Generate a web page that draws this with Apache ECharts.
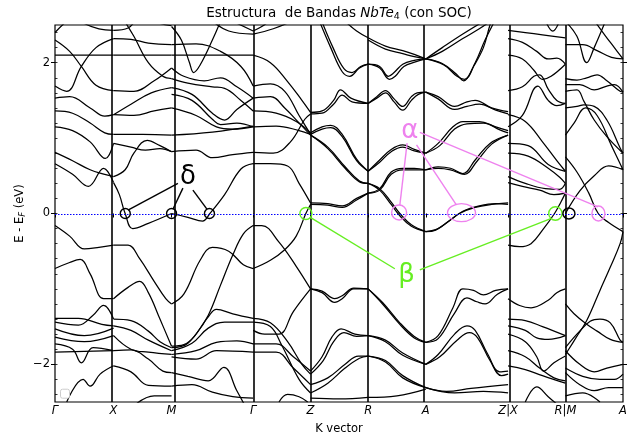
<!DOCTYPE html>
<html>
<head>
<meta charset="utf-8">
<script src="https://cdn.jsdelivr.net/npm/echarts@6/dist/echarts.min.js"></script>
<style>
  html, body { margin: 0; padding: 0; background: #fff; }
  #chart { width: 633px; height: 437px; }
</style>
</head>
<body>
<div id="chart"></div>
<script>
// High-symmetry path (cumulative k, normalised) and its labels
const kLabels = ['Γ', 'X', 'M', 'Γ', 'Z', 'R', 'A', 'Z|X', 'R|M', 'A'];
const kTicks = [0, 0.1031, 0.2052, 0.3489, 0.4499, 0.5513, 0.6528, 0.7977, 0.8986, 1.0];

// Energy ticks (eV)
const majorTicks = [-2, 0, 2];
const minorTicks = [-2.4, -2.2, -2.0, -1.8, -1.6, -1.4, -1.2, -1.0, -0.8, -0.6, -0.4, -0.2, 0,
  0.2, 0.4, 0.6, 0.8, 1.0, 1.2, 1.4, 1.6, 1.8, 2.0, 2.2, 2.4];

// Bands per path segment: each band is a list of [t, E - E_F], t = fraction along the segment
const bandsGX = [
  [[0,2.40],[0.17,2.53],[0.33,2.62],[0.5,2.52],[0.75,2.45],[1,2.43]],
  [[0,2.30],[0.25,2.15],[0.45,1.95],[0.7,1.70],[1,1.63]],
  [[0,1.69],[0.2,1.62],[0.45,1.95],[0.7,2.2],[1,2.32]],
  [[0,2.10],[1,2.10]],
  [[0,1.53],[0.25,1.55],[0.6,1.40],[0.85,1.29],[1,1.31]],
  [[0,1.36],[0.3,1.33],[0.6,1.2],[0.85,1.07],[1,1.05]],
  [[0,1.15],[0.3,1.10],[0.6,0.95],[0.86,0.73],[1,0.93]],
  [[0,0.81],[0.3,0.70],[0.6,0.58],[0.85,0.52],[1,0.49]],
  [[0,0.66],[0.3,0.52],[0.57,0.36],[0.83,0.60],[1,0.41]],
  [[0,-0.16],[0.25,-0.3],[0.5,-0.47],[0.75,-0.45],[1,-0.42]],
  [[0,-0.73],[0.25,-0.65],[0.43,-0.61],[0.6,-0.8],[0.83,-1.13],[1,-1.13]],
  [[0,-1.39],[0.4,-1.39],[0.8,-1.47],[1,-1.49]],
  [[0,-1.44],[0.4,-1.48],[0.65,-1.35],[0.83,-1.22],[1,-1.40]],
  [[0,-1.53],[0.5,-1.62],[1,-1.52]],
  [[0,-1.64],[0.5,-1.70],[1,-1.62]],
  [[0,-1.73],[0.3,-1.8],[0.45,-1.98],[0.65,-1.78],[1,-1.82]],
  [[0,-1.84],[0.5,-1.83],[1,-1.82]],
  [[0.2,-2.5],[0.48,-2.2],[0.6,-2.29],[0.77,-2.13],[1,-2.02]]
];
const bandsXM = [
  [[0,2.43],[0.25,2.46],[0.4,2.6]],
  [[0.55,2.6],[0.8,2.52],[1,2.49]],
  [[0,2.32],[0.3,2.31],[0.6,2.26],[1,2.24]],
  [[0,2.10],[1,2.10]],
  [[0,1.63],[0.35,1.62],[0.7,1.76],[1,1.93]],
  [[0.15,2.6],[0.35,2.35],[0.6,2.0],[0.85,1.82],[1,1.79]],
  [[0,1.31],[0.3,1.45],[0.65,1.6],[1,1.67]],
  [[0,1.31],[0.35,1.3],[0.7,1.36],[1,1.40]],
  [[0,1.05],[0.5,1.05],[1,1.04]],
  [[0,0.93],[0.3,0.88],[0.55,0.84],[0.8,0.86],[1,0.82]],
  [[0,0.49],[0.2,0.58],[0.35,0.8],[0.58,0.97],[0.8,0.9],[1,0.82]],
  [[0,0.41],[0.1,0.25],[0.2,0.0],[0.33,-0.2],[0.6,-0.13],[1,0.0]],
  [[0,-0.42],[0.25,-0.42],[0.45,-0.6],[0.7,-0.9],[0.9,-1.13],[1,-1.2]],
  [[0,-1.13],[0.25,-0.98],[0.45,-0.90],[0.6,-1.05],[0.8,-1.4],[1,-1.76]],
  [[0,-1.40],[0.3,-1.42],[0.6,-1.56],[0.8,-1.7],[1,-1.78]],
  [[0,-1.49],[0.3,-1.55],[0.6,-1.68],[1,-1.82]],
  [[0,-1.62],[0.3,-1.8],[0.6,-1.84],[1,-1.87]],
  [[0,-1.82],[0.3,-1.81],[0.6,-1.93],[0.85,-2.09],[1,-2.11]],
  [[0,-2.02],[0.3,-2.1],[0.6,-2.28],[1,-2.29]],
  [[0.4,-2.52],[0.7,-2.42],[1,-2.42]]
];
const bandsMG = [
  [[0,2.48],[0.12,2.3],[0.22,2.0],[0.27,1.87],[0.35,1.97],[0.5,2.3],[0.62,2.6]],
  [[0.45,2.6],[0.7,2.42],[1,2.38]],
  [[0.75,2.55],[1,2.42]],
  [[0,2.24],[0.3,2.25],[0.6,2.15],[0.85,1.95],[1,1.69]],
  [[0,2.10],[1,2.10]],
  [[0,1.93],[0.15,1.82],[0.4,1.76],[0.6,1.8],[0.8,1.68],[1,1.53]],
  [[0,1.79],[0.2,1.73],[0.5,1.68],[0.65,1.66],[0.85,1.5],[1,1.36]],
  [[0,1.67],[0.25,1.58],[0.5,1.33],[0.65,1.24],[0.8,1.38],[1,1.53]],
  [[0,1.58],[0.25,1.5],[0.5,1.25],[0.6,1.18],[0.8,1.2],[1,1.15]],
  [[0,1.40],[0.3,1.30],[0.55,1.15],[0.75,1.12],[1,1.15]],
  [[0,1.04],[0.5,1.08],[1,1.16]],
  [[0,0.82],[0.3,0.84],[0.5,0.74],[0.75,0.78],[1,0.81]],
  [[0,0.0],[0.2,-0.05],[0.38,-0.1],[0.47,0.0],[0.65,0.25],[0.85,0.59],[1,0.66]],
  [[0,-1.2],[0.15,-1.07],[0.35,-0.62],[0.5,-0.45],[0.7,-0.5],[0.88,-0.68],[1,-0.73]],
  [[0,-1.76],[0.15,-1.74],[0.3,-1.6],[0.45,-1.35],[0.6,-0.95],[0.75,-0.55],[0.88,-0.27],[1,-0.16]],
  [[0,-1.78],[0.2,-1.72],[0.45,-1.37],[0.55,-1.27],[0.75,-1.33],[1,-1.39]],
  [[0,-1.82],[0.25,-1.72],[0.45,-1.52],[0.65,-1.44],[1,-1.44]],
  [[0,-1.87],[0.3,-1.82],[0.55,-1.71],[0.8,-1.69],[1,-1.73]],
  [[0,-1.9],[0.3,-1.93],[0.55,-1.82],[1,-1.84]],
  [[0,-2.11],[0.2,-2.16],[0.45,-2.22],[0.64,-2.04],[0.8,-2.35],[0.9,-2.55]],
  [[0,-2.29],[0.25,-2.27],[0.5,-2.37],[0.75,-2.43],[1,-2.45]]
];
const bandsGZ = [
  [[0,2.42],[0.15,2.48],[0.3,2.56]],
  [[0,2.38],[0.35,2.45],[0.7,2.56]],
  [[0,2.10],[0.3,2.0],[0.6,1.75],[0.85,1.5],[1,1.34]],
  [[0,1.69],[0.3,1.72],[0.55,1.62],[0.8,1.3],[1,1.05]],
  [[0,1.53],[0.3,1.55],[0.55,1.40],[0.8,1.2],[1,1.04]],
  [[0,1.36],[0.4,1.33],[0.75,1.22],[1,1.07]],
  [[0,1.15],[0.4,1.16],[0.8,1.1],[1,1.05]],
  [[0,0.81],[0.35,0.80],[0.65,0.95],[0.9,1.25],[1,1.32]],
  [[0,0.66],[0.3,0.66],[0.6,0.63],[0.8,0.4],[1,0.14]],
  [[0,-0.73],[0.3,-0.62],[0.55,-0.48],[0.75,-0.3],[0.918,0.0],[1,0.12]],
  [[0,-0.16],[0.15,-0.16],[0.45,-0.38],[0.75,-0.7],[1,-1.0]],
  [[0,-1.55],[0.2,-1.6],[0.45,-1.6],[0.7,-1.3],[1,-1.0]],
  [[0,-1.39],[0.3,-1.45],[0.6,-1.7],[0.85,-2.0],[1,-2.13]],
  [[0,-1.44],[0.3,-1.5],[0.5,-1.75],[0.8,-2.2],[1,-2.38]],
  [[0,-1.73],[0.4,-1.73],[0.7,-1.9],[1,-2.09]],
  [[0,-1.84],[0.4,-1.84],[0.7,-2.05],[1,-2.27]],
  [[0.45,-2.5],[0.6,-2.4],[0.8,-2.43],[0.95,-2.5]]
];
const bandsZR = [
  [[0.15,2.56],[0.35,2.2],[0.55,1.88],[0.68,1.82],[0.85,1.93],[1,1.98]],
  [[0.19,2.56],[0.39,2.2],[0.58,1.92],[0.72,1.87],[0.87,1.95],[1,1.98]],
  [[0.6,2.55],[0.8,2.42],[1,2.33]],
  [[0,1.34],[0.2,1.36],[0.4,1.50],[0.52,1.64],[0.7,1.53],[1,1.46]],
  [[0,1.32],[0.2,1.33],[0.4,1.45],[0.55,1.57],[0.72,1.48],[1,1.46]],
  [[0,1.07],[0.2,1.15],[0.35,1.17],[0.55,1.05],[0.8,0.72],[1,0.56]],
  [[0,1.05],[0.2,1.12],[0.35,1.14],[0.55,1.02],[0.8,0.70],[1,0.56]],
  [[0,1.04],[0.3,0.88],[0.6,0.62],[0.85,0.43],[1,0.40]],
  [[0,1.04],[0.3,0.86],[0.6,0.60],[0.85,0.42],[1,0.40]],
  [[0,0.14],[0.3,0.13],[0.55,0.10],[0.8,0.20],[1,0.27]],
  [[0,0.12],[0.3,0.11],[0.55,0.08],[0.8,0.18],[1,0.27]],
  [[0,-1.0],[0.2,-1.05],[0.42,-1.18],[0.55,-1.13],[0.75,-1.0],[1,-1.0]],
  [[0,-1.0],[0.2,-1.03],[0.42,-1.13],[0.55,-1.09],[0.75,-0.99],[1,-1.0]],
  [[0,-2.09],[0.2,-1.9],[0.37,-1.64],[0.53,-1.53],[0.77,-1.6],[1,-1.62]],
  [[0,-2.13],[0.22,-1.95],[0.4,-1.7],[0.58,-1.58],[0.8,-1.63],[1,-1.62]],
  [[0,-2.27],[0.3,-2.18],[0.6,-2.0],[0.83,-1.89],[1,-1.89]],
  [[0,-2.38],[0.3,-2.25],[0.6,-2.05],[0.85,-1.92],[1,-1.89]],
  [[0,-2.45],[0.5,-2.46],[1,-2.44]]
];
const bandsRA = [
  [[0,2.33],[0.3,2.22],[0.6,2.16],[0.8,2.11],[1,2.05]],
  [[0,2.30],[0.3,2.18],[0.6,2.12],[0.8,2.08],[1,2.05]],
  [[0,1.98],[0.2,1.95],[0.35,1.82],[0.45,1.87],[0.6,1.98],[0.8,2.03],[1,2.05]],
  [[0,1.98],[0.2,1.93],[0.37,1.78],[0.47,1.82],[0.62,1.95],[0.82,2.01],[1,2.05]],
  [[0,1.46],[0.15,1.55],[0.3,1.63],[0.45,1.52],[0.6,1.42],[0.75,1.55],[0.85,1.6],[1,1.61]],
  [[0,1.46],[0.15,1.53],[0.3,1.60],[0.45,1.48],[0.6,1.37],[0.75,1.50],[0.87,1.58],[1,1.61]],
  [[0,0.56],[0.2,0.71],[0.4,0.85],[0.6,0.91],[0.8,0.85],[1,0.80]],
  [[0,0.56],[0.2,0.68],[0.4,0.82],[0.6,0.88],[0.8,0.83],[1,0.80]],
  [[0,0.40],[0.2,0.33],[0.4,0.15],[0.55,0.0],[0.75,-0.15],[1,-0.24]],
  [[0,0.40],[0.2,0.31],[0.4,0.12],[0.55,-0.03],[0.75,-0.17],[1,-0.24]],
  [[0,0.27],[0.2,0.33],[0.4,0.55],[0.6,0.60],[0.8,0.60],[1,0.58]],
  [[0,0.27],[0.2,0.31],[0.4,0.52],[0.6,0.58],[0.8,0.58],[1,0.58]],
  [[0,-1.0],[0.25,-1.2],[0.55,-1.47],[0.8,-1.65],[1,-1.71]],
  [[0,-1.0],[0.25,-1.18],[0.55,-1.45],[0.8,-1.63],[1,-1.71]],
  [[0,-1.62],[0.3,-1.68],[0.6,-1.85],[1,-2.0]],
  [[0,-1.62],[0.3,-1.70],[0.6,-1.88],[1,-2.0]],
  [[0,-1.89],[0.3,-1.95],[0.6,-2.15],[1,-2.31]],
  [[0,-1.89],[0.3,-1.97],[0.6,-2.18],[1,-2.31]],
  [[0,-2.44],[0.5,-2.42],[1,-2.33]]
];
const bandsAZ = [
  [[0,2.05],[0.2,2.15],[0.45,2.32],[0.65,2.45],[0.8,2.56]],
  [[0,2.05],[0.2,2.20],[0.45,2.38],[0.72,2.56]],
  [[0,2.05],[0.2,1.99],[0.37,1.85],[0.46,1.76],[0.58,1.95],[0.7,2.2],[0.78,2.5],[0.82,2.6]],
  [[0,2.05],[0.22,1.97],[0.38,1.82],[0.47,1.78],[0.6,2.0],[0.72,2.3],[0.86,2.6]],
  [[0,1.61],[0.15,1.55],[0.35,1.42],[0.5,1.48],[0.6,1.50],[0.8,1.40],[1,1.35]],
  [[0,1.61],[0.15,1.52],[0.35,1.38],[0.5,1.42],[0.65,1.45],[0.85,1.37],[1,1.32]],
  [[0,0.80],[0.15,0.93],[0.33,1.15],[0.45,1.22],[0.65,1.22],[0.85,1.15],[1,1.10]],
  [[0,0.80],[0.17,0.90],[0.35,1.12],[0.5,1.19],[0.7,1.20],[0.9,1.11],[1,1.07]],
  [[0,0.58],[0.15,0.62],[0.3,0.60],[0.45,0.53],[0.6,0.71],[0.78,0.93],[1,1.04]],
  [[0,0.58],[0.15,0.60],[0.3,0.58],[0.47,0.52],[0.62,0.69],[0.8,0.92],[1,1.04]],
  [[0,-0.24],[0.12,-0.22],[0.28,-0.10],[0.41,0.0],[0.6,0.08],[0.8,0.12],[1,0.14]],
  [[0,-0.24],[0.15,-0.20],[0.32,-0.07],[0.45,0.03],[0.65,0.10],[0.85,0.13],[1,0.12]],
  [[0,-1.71],[0.15,-1.62],[0.33,-1.25],[0.45,-1.0],[0.58,-1.02],[0.7,-1.08],[0.85,-1.02],[1,-1.0]],
  [[0,-1.71],[0.15,-1.66],[0.35,-1.32],[0.5,-1.12],[0.62,-1.17],[0.72,-1.2],[0.87,-1.07],[1,-1.0]],
  [[0,-2.0],[0.15,-1.87],[0.35,-1.6],[0.5,-1.49],[0.6,-1.55],[0.75,-1.86],[0.9,-2.1],[1,-2.09]],
  [[0,-2.0],[0.17,-1.9],[0.38,-1.68],[0.53,-1.58],[0.63,-1.65],[0.78,-1.95],[0.92,-2.15],[1,-2.13]],
  [[0,-2.31],[0.25,-2.36],[0.55,-2.32],[1,-2.27]],
  [[0,-2.31],[0.35,-2.38],[0.7,-2.36],[1,-2.38]]
];
const bandsXR = [
  [[0,2.43],[0.3,2.40],[0.6,2.37],[1,2.33]],
  [[0.65,2.56],[0.78,2.42],[0.9,2.56]],
  [[0,2.32],[0.25,2.27],[0.5,2.15],[0.7,2.05],[0.85,2.06],[1,1.98]],
  [[0,2.10],[0.25,2.05],[0.45,1.9],[0.6,1.78],[0.75,1.82],[1,1.98]],
  [[0,1.63],[0.25,1.68],[0.45,1.82],[0.55,1.84],[0.7,1.65],[0.85,1.5],[1,1.46]],
  [[0,1.15],[0.25,1.30],[0.52,1.69],[0.7,1.5],[0.85,1.43],[1,1.46]],
  [[0,1.31],[0.3,1.22],[0.6,0.95],[0.85,0.70],[1,0.56]],
  [[0,0.93],[0.35,0.90],[0.7,0.65],[1,0.56]],
  [[0,0.80],[0.35,0.76],[0.7,0.60],[0.9,0.48],[1,0.40]],
  [[0,0.49],[0.3,0.40],[0.65,0.33],[0.9,0.32],[1,0.40]],
  [[0,0.41],[0.25,0.36],[0.55,0.31],[0.8,0.25],[1,0.27]],
  [[0,-0.42],[0.2,-0.44],[0.4,-0.40],[0.6,-0.22],[0.81,0.0],[0.92,0.15],[1,0.27]],
  [[0,-1.13],[0.2,-1.22],[0.4,-1.25],[0.7,-1.15],[0.85,-1.05],[1,-1.0]],
  [[0,-1.40],[0.3,-1.42],[0.6,-1.5],[1,-1.62]],
  [[0,-1.49],[0.3,-1.55],[0.5,-1.65],[0.7,-1.67],[1,-1.62]],
  [[0,-1.60],[0.3,-1.7],[0.5,-1.9],[0.62,-2.09],[0.8,-1.98],[1,-1.89]],
  [[0,-1.82],[0.3,-1.9],[0.55,-2.05],[0.8,-2.18],[1,-2.22]],
  [[0,-2.02],[0.3,-2.07],[0.6,-2.15],[1,-2.25]],
  [[0.3,-2.5],[0.5,-2.3],[0.7,-2.43],[0.9,-2.56]]
];
const bandsMA = [
  [[0,2.55],[0.2,2.35],[0.37,2.0],[0.5,2.2],[0.7,2.56]],
  [[0,2.24],[0.3,2.24],[0.55,2.16],[0.8,2.07],[1,2.05]],
  [[0.5,2.56],[0.7,2.35],[0.85,2.2],[1,2.05]],
  [[0,1.79],[0.2,1.77],[0.37,1.80],[0.55,1.84],[0.72,1.76],[0.95,1.62],[1,1.61]],
  [[0,1.71],[0.25,1.71],[0.5,1.64],[0.72,1.69],[0.85,1.71],[1,1.61]],
  [[0,1.62],[0.2,1.64],[0.32,1.49],[0.5,1.24],[0.72,1.02],[1,0.80]],
  [[0,1.40],[0.2,1.42],[0.32,1.44],[0.5,1.42],[0.72,1.24],[0.95,0.87],[1,0.80]],
  [[0,1.04],[0.15,1.2],[0.35,1.4],[0.55,1.3],[0.8,0.9],[1,0.58]],
  [[0,0.75],[0.2,0.55],[0.4,0.28],[0.57,0.0],[0.75,-0.12],[1,-0.24]],
  [[0,0.0],[0.25,0.30],[0.5,0.50],[0.75,0.63],[1,0.58]],
  [[0,-1.87],[0.19,-1.64],[0.37,-1.42],[0.6,-1.02],[0.78,-0.71],[0.95,-0.40],[1,-0.24]],
  [[0,-1.2],[0.15,-1.33],[0.37,-1.47],[0.55,-1.56],[0.78,-1.67],[1,-1.71]],
  [[0,-1.78],[0.2,-1.6],[0.43,-1.43],[0.6,-1.4],[0.78,-1.45],[0.95,-1.68],[1,-1.71]],
  [[0,-1.82],[0.25,-2.0],[0.5,-2.1],[0.72,-2.05],[1,-2.0]],
  [[0,-2.05],[0.3,-2.16],[0.6,-2.2],[0.85,-2.2],[1,-2.13]],
  [[0,-2.11],[0.25,-2.27],[0.5,-2.35],[0.75,-2.31],[1,-2.31]],
  [[0,-2.42],[0.3,-2.38],[0.6,-2.5]]
];
const segments = [bandsGX, bandsXM, bandsMG, bandsGZ, bandsZR, bandsRA, bandsAZ, bandsXR, bandsMA];

// Annotated band crossings near the Fermi level ([k, E] anchors)
const deltaMark = {
  label: [0.234, 0.484],
  rings: [[0.1237, 0], [0.2052, 0], [0.2719, 0]],
  leaders: [[[0.2164, 0.40], [0.1285, 0.044]], [[0.2252, 0.337], [0.2076, 0.057]], [[0.2428, 0.311], [0.2675, 0.057]]]
};
const alphaMark = {
  label: [0.6247, 1.088],
  rings: [[0.6058, 0.013, 7.5, 7.5], [0.7157, 0.011, 14, 9], [0.9567, 0.0, 6.5, 7.5]],
  leaders: [[[0.6199, 0.933], [0.6071, 0.111]], [[0.6365, 0.911], [0.7069, 0.111]], [[0.6423, 1.075], [0.956, 0.088]]]
};
const betaMark = {
  label: [0.6188, -0.823],
  rings: [[0.4417, 0.0, 6, 6], [0.881, 0.0, 6.7, 6.7]],
  leaders: [[[0.4487, -0.049], [0.5983, -0.733]], [[0.6423, -0.747], [0.8728, -0.067]]]
};
const extraRing = [0.9048, 0.0, 6, 5.5];

const FONT = 'DejaVu Sans';
const chart = echarts.init(document.getElementById('chart'), null, { renderer: 'canvas' });

const series = [];
segments.forEach((bands, s) => {
  const k0 = kTicks[s], k1 = kTicks[s + 1];
  bands.forEach(b => {
    series.push({
      type: 'line',
      data: b.map(([t, e]) => [k0 + t * (k1 - k0), e]),
      showSymbol: false, symbol: 'none',
      smooth: 0.4,
      lineStyle: { color: '#000', width: 1.25 },
      silent: true, animation: false, z: 2
    });
  });
});

// Segment separators
series.push({
  type: 'line', data: [], silent: true, animation: false, z: 3,
  markLine: {
    silent: true, animation: false, symbol: ['none', 'none'],
    label: { show: false },
    data: kTicks.slice(1, -1).map(k => ({ xAxis: k, lineStyle: { color: '#000', width: 1.6, type: 'solid' } }))
  }
});

const yBase = { type: 'value', min: -2.5, max: 2.5, splitLine: { show: false }, axisLine: { show: false } };

chart.setOption({
  animation: false,
  grid: { left: 55, right: 10, top: 25, bottom: 35, containLabel: false, outerBoundsMode: 'none',
    show: true, borderColor: '#000', borderWidth: 1.2, backgroundColor: 'transparent' },
  xAxis: {
    type: 'value', min: 0, max: 1,
    splitLine: { show: false }, axisLine: { show: false },
    axisTick: { show: true, customValues: kTicks, length: 4, lineStyle: { color: '#000', width: 1 } },
    axisLabel: {
      customValues: kTicks, color: '#000', fontSize: 11.5, fontStyle: 'italic', fontFamily: FONT, margin: 3,
      formatter: v => { const i = kTicks.findIndex(k => Math.abs(k - v) < 1e-6); return i >= 0 ? kLabels[i] : ''; }
    },
    name: 'K vector', nameLocation: 'middle', nameGap: 21,
    nameTextStyle: { color: '#000', fontSize: 11.5, fontFamily: FONT }
  },
  yAxis: [
    Object.assign({}, yBase, {
      position: 'left',
      axisTick: { show: true, customValues: majorTicks, length: 4, lineStyle: { color: '#000' } },
      axisLabel: { customValues: majorTicks, color: '#000', fontSize: 11.5, fontFamily: FONT, margin: 5,
        formatter: v => (v < 0 ? '\u2212' + Math.abs(v) : String(v)) }
    }),
    Object.assign({}, yBase, {
      position: 'left',
      axisTick: { show: true, inside: true, customValues: minorTicks, length: 2.5, lineStyle: { color: '#000', width: 0.8 } },
      axisLabel: { show: false }
    }),
    Object.assign({}, yBase, {
      position: 'right',
      axisTick: { show: true, customValues: majorTicks, length: 4, lineStyle: { color: '#000' } },
      axisLabel: { show: false }
    }),
    Object.assign({}, yBase, {
      position: 'right',
      axisTick: { show: true, inside: true, customValues: minorTicks, length: 2.5, lineStyle: { color: '#000', width: 0.8 } },
      axisLabel: { show: false }
    })
  ],
  series: series
});

// Text measurement for mixed-style titles
const mctx = document.createElement('canvas').getContext('2d');
function textWidth(t, font) { mctx.font = font; return mctx.measureText(t).width; }
function runText(pieces, cx, cy) {
  const total = pieces.reduce((s, p) => s + textWidth(p.t, p.font), 0);
  let x = cx - total / 2;
  return pieces.map(p => {
    const el = { type: 'text', x: x, y: cy + (p.dy || 0), silent: true,
      style: { text: p.t, font: p.font, fill: '#000', align: 'left', verticalAlign: 'middle' } };
    x += textWidth(p.t, p.font);
    return el;
  });
}

const px = (k, e) => chart.convertToPixel({ gridIndex: 0 }, [k, e]);
const gfx = [];

// Fermi level, dotted blue across the full path
{
  const a = px(0, 0), b = px(1, 0);
  gfx.push({ type: 'line', silent: true, z: 40,
    shape: { x1: a[0], y1: Math.round(a[1]) + 0.5, x2: b[0], y2: Math.round(b[1]) + 0.5 },
    style: { stroke: '#0000ff', lineWidth: 1, lineDash: [1.5, 1.5] } });
}

// Title
const leftTop = px(0, 2.5), rightTop = px(1, 2.5);
const titleX = (leftTop[0] + rightTop[0]) / 2;
gfx.push(...runText([
  { t: 'Estructura  de Bandas ', font: `13.5px "${FONT}"` },
  { t: 'NbTe', font: `italic 13.5px "${FONT}"` },
  { t: '4', font: `9.5px "${FONT}"`, dy: 3.5 },
  { t: ' (con SOC)', font: `13.5px "${FONT}"` }
], titleX, 13));

// Energy axis title (rotated)
const mid = px(0, 0);
gfx.push({
  type: 'group', x: 20, y: mid[1], rotation: Math.PI / 2, silent: true,
  children: runText([
    { t: 'E - E', font: `11.5px "${FONT}"` },
    { t: 'F', font: `italic 8.5px "${FONT}"`, dy: 3 },
    { t: ' (eV)', font: `11.5px "${FONT}"` }
  ], 0, 0)
});

function addMark(mark, color, sym) {
  mark.leaders.forEach(([a, b]) => {
    const p = px(a[0], a[1]), q = px(b[0], b[1]);
    gfx.push({ type: 'line', silent: true, z: 50, shape: { x1: p[0], y1: p[1], x2: q[0], y2: q[1] },
      style: { stroke: color, lineWidth: 1.4 } });
  });
  mark.rings.forEach(r => {
    const c = px(r[0], r[1]);
    const rx = r[2] || 5, ry = r[3] || 5;
    gfx.push({ type: 'ellipse', silent: true, z: 50, shape: { cx: c[0], cy: c[1], rx: rx, ry: ry },
      style: { stroke: color, fill: 'none', lineWidth: 1.4 } });
  });
  const l = px(mark.label[0], mark.label[1]);
  gfx.push({ type: 'text', silent: true, z: 51, x: l[0], y: l[1],
    style: { text: sym, font: `26px "${FONT}"`, fill: color, align: 'center', verticalAlign: 'middle' } });
}
addMark(deltaMark, '#000', 'δ');
addMark(alphaMark, '#ee82ee', 'α');
addMark(betaMark, '#66ee22', 'β');
{
  const c = px(extraRing[0], extraRing[1]);
  gfx.push({ type: 'ellipse', silent: true, z: 50, shape: { cx: c[0], cy: c[1], rx: extraRing[2], ry: extraRing[3] },
    style: { stroke: '#000', fill: 'none', lineWidth: 1.4 } });
}

// Empty legend frame in the lower-left corner
const lg = px(0.0176, -2.39);
gfx.push({ type: 'rect', silent: true, z: 50, shape: { x: lg[0] - 4.5, y: lg[1] - 4.5, width: 9, height: 9, r: 2 },
  style: { stroke: '#cccccc', fill: '#fff', lineWidth: 1 } });

chart.setOption({ graphic: gfx });
</script>
</body>
</html>
